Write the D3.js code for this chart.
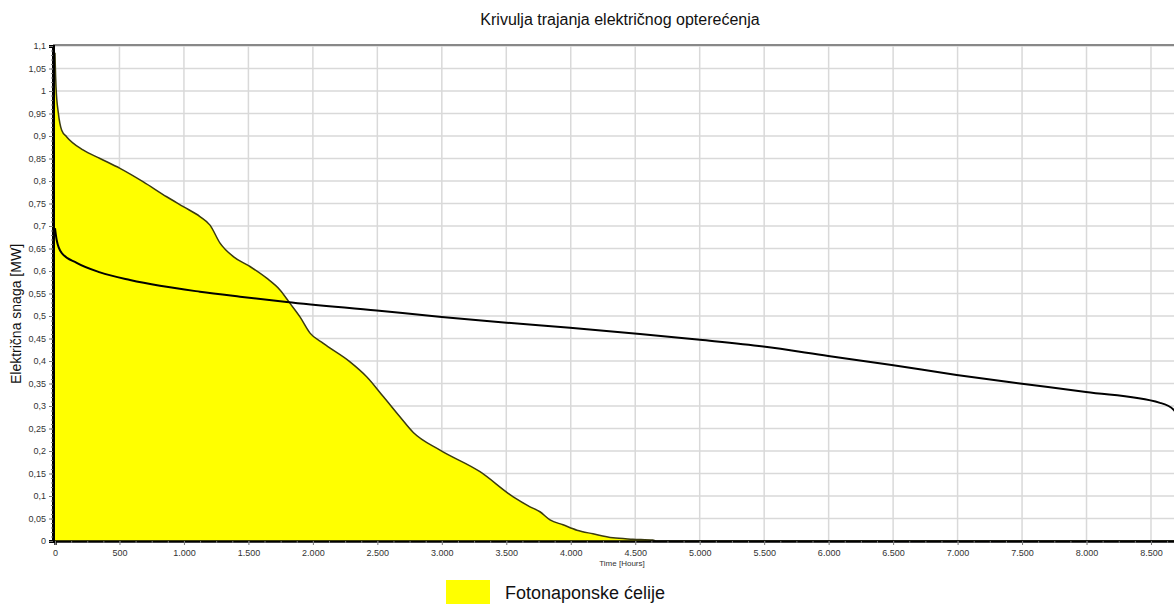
<!DOCTYPE html>
<html>
<head>
<meta charset="utf-8">
<script src="https://cdn.jsdelivr.net/npm/d3@7"></script>
<style>
  body { margin: 0; background: #fff; }
  svg { font-family: "Liberation Sans", Arial, sans-serif; display: block; }
</style>
</head>
<body>
<svg id="chart" width="1174" height="604"></svg>
<script>
// solar (PV) duration curve, hours -> MW
const pvHours = [0, 2, 8, 26, 52, 91, 217, 349, 504, 685, 866, 995, 1124, 1202, 1280, 1383, 1512, 1642, 1745, 1823, 1900, 1978, 2081, 2288, 2417, 2546, 2675, 2779, 2986, 3296, 3554, 3684, 3761, 3839, 3940, 4048, 4172, 4327, 4482, 4637, 4660, 8760];
const pvMW = [1.085, 1.06, 1.009, 0.951, 0.913, 0.898, 0.869, 0.85, 0.828, 0.798, 0.765, 0.743, 0.721, 0.702, 0.662, 0.632, 0.61, 0.584, 0.558, 0.528, 0.498, 0.462, 0.439, 0.398, 0.365, 0.321, 0.276, 0.241, 0.202, 0.154, 0.098, 0.076, 0.065, 0.047, 0.036, 0.024, 0.016, 0.007, 0.004, 0.002, 0, 0];

// load duration curve
const loadHours = [0, 13, 52, 168, 349, 582, 814, 1124, 1435, 1797, 2495, 2999, 3503, 3994, 4537, 5002, 5493, 5997, 6489, 6993, 7484, 7996, 8570, 8678, 8760];
const loadMW = [0.695, 0.669, 0.64, 0.618, 0.597, 0.58, 0.567, 0.554, 0.543, 0.531, 0.512, 0.498, 0.485, 0.474, 0.46, 0.447, 0.432, 0.411, 0.391, 0.369, 0.35, 0.331, 0.307, 0.291, 0.25];

const xTicks = d3.range(0, 8760, 500);
const yTicks = d3.range(0, 23).map(i => +(i * 0.05).toFixed(2));

const svg = d3.select("#chart");

const x = d3.scaleLinear().domain([0, 8760]).range([55, 55 + 8760 / 500 * 64.47]);
const y = d3.scaleLinear().domain([0, 1.1]).range([541, 46]);

const fmtX = d => d3.format(",")(d).replace(/,/g, ".");
const fmtY = d => String(d).replace(".", ",");

const plot = svg.append("g");

// grid
plot.append("g").selectAll("line").data(xTicks.filter(d => d > 0)).enter().append("line")
    .attr("x1", d => x(d)).attr("x2", d => x(d))
    .attr("y1", y(1.1)).attr("y2", y(0))
    .attr("stroke", "#d9d9d9").attr("stroke-width", 1.5);
plot.append("g").selectAll("line").data(yTicks.filter(d => d > 0)).enter().append("line")
    .attr("x1", x(0)).attr("x2", 1174)
    .attr("y1", d => y(d)).attr("y2", d => y(d))
    .attr("stroke", "#d9d9d9").attr("stroke-width", 1.5);

// top border
plot.append("line")
    .attr("x1", 53).attr("x2", 1174).attr("y1", 45).attr("y2", 45)
    .attr("stroke", "#888").attr("stroke-width", 2);

// PV area
const pv = pvHours.map((h, i) => [h, pvMW[i]]);
const area = d3.area()
    .x(d => x(d[0])).y0(y(0)).y1(d => y(d[1]))
    .curve(d3.curveMonotoneX);
plot.append("path").datum(pv).attr("d", area).attr("fill", "#ffff00");
plot.append("path").datum(pv)
    .attr("d", d3.line().x(d => x(d[0])).y(d => y(d[1])).curve(d3.curveMonotoneX))
    .attr("fill", "none").attr("stroke", "#3a3a10").attr("stroke-width", 1.5);

// load line
const load = loadHours.map((h, i) => [h, loadMW[i]]);
plot.append("path").datum(load)
    .attr("d", d3.line().x(d => x(d[0])).y(d => y(d[1])).curve(d3.curveMonotoneX))
    .attr("fill", "none").attr("stroke", "#000").attr("stroke-width", 2);

// x axis
const xAxis = svg.append("g").attr("transform", `translate(0,${y(0)})`)
    .call(d3.axisBottom(x).tickValues(xTicks).tickFormat(fmtX).tickSize(4).tickPadding(5));
svg.append("g").attr("transform", `translate(0,${y(0)})`)
    .call(d3.axisBottom(x).tickValues(d3.range(0, 8760, 125)).tickFormat("").tickSize(2).tickSizeOuter(0))
    .select(".domain").remove();
xAxis.select(".domain").attr("stroke", "#000").attr("stroke-width", 2.5);
xAxis.selectAll("text").attr("fill", "#333").style("font-size", "9px");

// y axis
const yAxis = svg.append("g").attr("transform", "translate(53,0)")
    .call(d3.axisLeft(y).tickValues(yTicks).tickFormat(fmtY).tickSize(4).tickPadding(3));
svg.append("g").attr("transform", "translate(53,0)")
    .call(d3.axisLeft(y).tickValues(d3.range(0, 111).map(i => i / 100)).tickFormat("").tickSize(2).tickSizeOuter(0))
    .select(".domain").remove();
yAxis.select(".domain").attr("stroke", "#000").attr("stroke-width", 3);
yAxis.selectAll("text").attr("fill", "#333").style("font-size", "9px");
svg.selectAll(".tick line").attr("stroke", "#777");

// labels
svg.append("text").attr("x", 620).attr("y", 25).attr("text-anchor", "middle")
    .style("font-size", "16px").attr("fill", "#111")
    .text("Krivulja trajanja električnog opterećenja");
svg.append("text").attr("transform", "translate(21,314) rotate(-90)").attr("text-anchor", "middle")
    .style("font-size", "14px").attr("fill", "#111")
    .text("Električna snaga [MW]");
svg.append("text").attr("x", 622).attr("y", 566).attr("text-anchor", "middle")
    .style("font-size", "8px").attr("fill", "#333")
    .text("Time [Hours]");

// legend
svg.append("rect").attr("x", 446).attr("y", 580).attr("width", 44).attr("height", 24).attr("fill", "#ffff00");
svg.append("text").attr("x", 505).attr("y", 599)
    .style("font-size", "18px").attr("fill", "#111")
    .text("Fotonaponske ćelije");
</script>
</body>
</html>
